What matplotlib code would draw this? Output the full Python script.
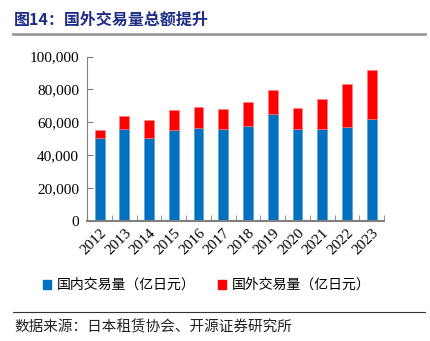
import matplotlib.pyplot as plt
from matplotlib.lines import Line2D
from matplotlib.patches import Patch
from matplotlib.ticker import FuncFormatter
import numpy as np

plt.rcParams['font.family'] = ['Noto Sans CJK SC', 'DejaVu Sans']

years = ['2012', '2013', '2014', '2015', '2016', '2017',
         '2018', '2019', '2020', '2021', '2022', '2023']
domestic = [50200, 56100, 50600, 55100, 56700, 56100,
            57700, 65100, 55900, 55700, 57300, 62200]
total = [55300, 63800, 61400, 67300, 69300, 67900,
         72600, 79700, 68500, 74400, 83400, 91900]
overseas = [t - d for t, d in zip(total, domestic)]

blue = '#0070C0'
red = '#FF0000'
serif = ['Liberation Serif', 'DejaVu Serif']

fig = plt.figure(figsize=(4.3, 3.41), dpi=100)
ax = fig.add_axes([0.203, 0.353, 0.690, 0.481])

x = np.arange(len(years))
ax.bar(x, domestic, width=0.4, color=blue, edgecolor='#5b9bd5', linewidth=0.4)
ax.bar(x, overseas, width=0.4, bottom=domestic, color=red, edgecolor='#ff7f7f', linewidth=0.4)

ax.set_xlim(-0.5, len(years) - 0.5)
ax.set_ylim(0, 100000)
ax.set_yticks(np.arange(0, 100001, 20000))
ax.yaxis.set_major_formatter(FuncFormatter(lambda v, p: f'{int(v):,}'))
ax.set_xticks(x)
ax.set_xticklabels(years, rotation=45, ha='right', va='top',
                   rotation_mode='anchor', family=serif, fontsize=11)
ax.tick_params(axis='x', length=0, pad=4)
# category boundary ticks pointing up
ax.set_xticks(np.arange(-0.5, len(years)), minor=True)
ax.tick_params(axis='x', which='minor', direction='in', length=4, color='#808080')
ax.tick_params(axis='y', direction='in', length=4, color='#808080', pad=6)
for lab in ax.get_yticklabels():
    lab.set_family(serif)
    lab.set_fontsize(11)

for s in ['top', 'right']:
    ax.spines[s].set_visible(False)
ax.spines['left'].set_color('#808080')
ax.spines['bottom'].set_color('#808080')
ax.spines['bottom'].set_linewidth(1.5)

# title and rules
fig.text(0.033, 1 - 20 / 341, '图14：国外交易量总额提升', fontsize=11.5, fontweight='bold',
         color='#1F2D86', va='center', ha='left')
fig.add_artist(Line2D([0.03, 0.988], [1 - 34 / 341] * 2, color='#999999', linewidth=2))
fig.add_artist(Line2D([0.03, 0.988], [1 - 312 / 341] * 2, color='#333333', linewidth=0.8))
fig.text(0.033, 1 - 327 / 341, '数据来源：日本租赁协会、开源证券研究所', fontsize=10.5,
         color='#222222', va='center', ha='left')

handles = [Patch(color=blue, label='国内交易量（亿日元）'),
           Patch(color=red, label='国外交易量（亿日元）')]
fig.legend(handles=handles, loc='center', bbox_to_anchor=(0.48, 1 - 285 / 341), ncol=2,
           frameon=False, handlelength=0.6, handleheight=0.6, handletextpad=0.4,
           columnspacing=1.6, fontsize=10)

fig.savefig('out.png', dpi=100)
